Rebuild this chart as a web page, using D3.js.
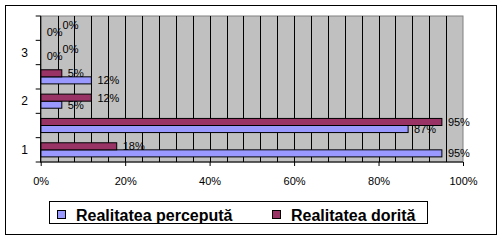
<!DOCTYPE html>
<html>
<head>
<meta charset="utf-8">
<script src="https://cdn.jsdelivr.net/npm/d3@7/dist/d3.min.js"></script>
<style>
  html, body { margin: 0; padding: 0; background: #fff; }
  svg { display: block; }
  text { font-family: "Liberation Sans", Arial, sans-serif; }
</style>
</head>
<body>
<svg id="chart" width="504" height="245"></svg>
<script>
// ---- data ----
const categories = [1, 2, 3, 4, 5, 6];
const categoryLabels = ["1", "", "2", "", "3", ""];
const seriesNames = ["Realitatea percepută", "Realitatea dorită"];
const perceived = [95, 87, 5, 12, 0, 0];
const desired = [18, 95, 12, 5, 0, 0];
const xTicks = [0, 20, 40, 60, 80, 100];
const gridSteps = d3.range(0, 101, 4);
const colors = ["#9999FF", "#993366"];

const svg = d3.select("#chart");
const W = 504, H = 245;
const plot = { left: 40.7, right: 463, top: 16, bottom: 162 };

// outer border
svg.append("rect").attr("x", 5.5).attr("y", 5.5).attr("width", 491).attr("height", 229)
  .attr("fill", "#fff").attr("stroke", "#000").attr("stroke-width", 1);

const x = d3.scaleLinear().domain([0, 100]).range([plot.left, plot.right]);
const y = d3.scaleBand().domain(categories).range([plot.bottom, plot.top])
  .paddingInner(0.42).paddingOuter(0.21);
const ySub = d3.scaleBand().domain([1, 0]).range([0, y.bandwidth()]);

// plot background
svg.append("rect").attr("x", plot.left).attr("y", plot.top)
  .attr("width", plot.right - plot.left).attr("height", plot.bottom - plot.top)
  .attr("fill", "#C0C0C0").attr("stroke", "#808080").attr("stroke-width", 1);

// gridlines
svg.append("g").selectAll("line").data(gridSteps.slice(1, -1)).join("line")
  .attr("x1", d => Math.round(x(d)) + 0.5).attr("x2", d => Math.round(x(d)) + 0.5)
  .attr("y1", plot.top).attr("y2", plot.bottom)
  .attr("stroke", "#000").attr("stroke-width", 1);

// bars
const series = [perceived, desired];
const rows = [];
categories.forEach((c, i) => {
  series.forEach((vals, s) => rows.push({ c, s, v: vals[i] }));
});
svg.append("g").selectAll("rect").data(rows).join("rect")
  .attr("x", plot.left)
  .attr("y", d => y(d.c) + ySub(d.s))
  .attr("width", d => x(d.v) - x(0))
  .attr("height", ySub.bandwidth())
  .attr("fill", d => colors[d.s])
  .attr("stroke", "#000").attr("stroke-width", 1)
  .attr("display", d => d.v === 0 ? "none" : null);

// value labels
const labelG = svg.append("g");
categories.forEach((c, i) => {
  const made = [];
  series.forEach((vals, s) => {
    const v = vals[i];
    const cy = y(c) + ySub(s) + ySub.bandwidth() / 2;
    const t = labelG.append("text")
      .attr("x", x(v) + 6).attr("y", cy + 4)
      .attr("font-size", 11).attr("fill", "#000")
      .text(v + "%");
    made.push({ t, x: x(v) + 6, y: cy, w: t.node().getComputedTextLength() });
  });
  // avoid overlap like the original
  const [a, b] = made;
  if (Math.abs(a.y - b.y) < 11 && b.x < a.x + a.w && a.x < b.x + b.w) {
    b.t.attr("x", a.x + a.w);
  }
});

// axes lines
svg.append("line").attr("x1", plot.left).attr("x2", plot.left)
  .attr("y1", plot.top).attr("y2", plot.bottom + 0.5)
  .attr("stroke", "#000").attr("stroke-width", 1.2);
svg.append("line").attr("x1", plot.left).attr("x2", plot.right)
  .attr("y1", plot.bottom).attr("y2", plot.bottom)
  .attr("stroke", "#000").attr("stroke-width", 1.2);

// y ticks at category boundaries
const bounds = categories.map(c => y(c) - y.step() * y.paddingInner() / 2).concat([plot.bottom]);
svg.append("g").selectAll("line").data(bounds).join("line")
  .attr("x1", plot.left - 5).attr("x2", plot.left)
  .attr("y1", d => d).attr("y2", d => d)
  .attr("stroke", "#000").attr("stroke-width", 1);
svg.append("g").selectAll("text").data(categories).join("text")
  .attr("x", 28).attr("y", d => y(d) + y.bandwidth() / 2 + 4)
  .attr("text-anchor", "end").attr("font-size", 12)
  .text((d, i) => categoryLabels[i]);

// x axis
const xAxis = d3.axisBottom(x).tickValues(xTicks).tickSize(4).tickFormat(d => d + "%");
const gx = svg.append("g").attr("transform", `translate(0,${plot.bottom})`).call(xAxis);
gx.select(".domain").remove();
gx.selectAll("line").attr("stroke", "#000");
gx.selectAll("text").attr("font-size", 11).attr("fill", "#000")
  .attr("font-family", "Liberation Sans, Arial, sans-serif").attr("dy", "1.45em");

// legend
svg.append("rect").attr("x", 49.5).attr("y", 201.5).attr("width", 378).attr("height", 22)
  .attr("fill", "#fff").attr("stroke", "#000").attr("stroke-width", 1);
const legX = [57, 272];
const lg = svg.append("g").selectAll("g").data(seriesNames).join("g")
  .attr("transform", (d, i) => `translate(${legX[i]},0)`);
lg.append("rect").attr("x", 0.5).attr("y", 210.5).attr("width", 8).attr("height", 8)
  .attr("fill", (d, i) => colors[i]).attr("stroke", "#000").attr("stroke-width", 1);
lg.append("text").attr("x", 19).attr("y", 220.5)
  .attr("font-size", 16).attr("font-weight", "bold").attr("fill", "#000")
  .text(d => d);
</script>
</body>
</html>
